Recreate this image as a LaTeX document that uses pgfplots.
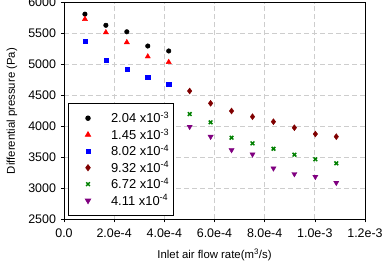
\documentclass[border=0pt]{standalone}
\usepackage{pgfplots}
\pgfplotsset{compat=1.18}
\usepackage{fontspec}
\setmainfont{Liberation Sans}

\definecolor{serA}{RGB}{0,0,0}
\definecolor{serB}{RGB}{255,0,0}
\definecolor{serC}{RGB}{0,0,255}
\definecolor{serD}{RGB}{128,0,0}
\definecolor{serE}{RGB}{0,128,0}
\definecolor{serF}{RGB}{128,0,128}
\definecolor{gridgray}{RGB}{205,205,205}

\begin{document}
\begin{tikzpicture}
\begin{axis}[
  scale only axis,
  width=301bp, height=216.6bp,
  xmin=0, xmax=0.0012,
  ymin=2500, ymax=6000,
  xtick={0,0.0002,0.0004,0.0006,0.0008,0.001,0.0012},
  xticklabels={0.0,2.0e-4,4.0e-4,6.0e-4,8.0e-4,1.0e-3,1.2e-3},
  ytick={2500,3000,3500,4000,4500,5000,5500,6000},
  /pgf/number format/assume math mode=true,
  /pgf/number format/set thousands separator={},
  scaled x ticks=false,
  tick pos=left,
  tick align=outside,
  major tick length=3bp,
  axis line style={line width=0.8bp},
  every tick/.style={black, line width=0.6bp},
  grid=major,
  major grid style={gridgray, line width=0.9bp, dash pattern=on 5bp off 3bp},
  tick label style={font=\fontsize{12.5}{14}\selectfont},
  xticklabel style={yshift=-2.5bp},
  yticklabel style={xshift=-1.5bp},
  xlabel={Inlet air flow rate(m\textsuperscript{3}/s)},
  ylabel={Differential pressure (Pa)},
  every axis x label/.style={at={([yshift=-36bp]rel axis cs:0.5,0)}, anchor=center,
    font=\fontsize{11.4}{13}\selectfont},
  every axis y label/.style={at={([xshift=-52bp]rel axis cs:0,0.5)}, rotate=90, anchor=center,
    font=\fontsize{11.4}{13}\selectfont},
  legend style={
    at={(0.012,0.015)}, anchor=south west,
    draw=black, line width=0.8bp,
    font=\fontsize{13}{15}\selectfont,
    row sep=0.4bp,
    inner xsep=2bp, inner ysep=7bp,
  },
  legend cell align=left,
  legend image code/.code={%
    % reserve a fixed-width slot for the marker
    \pgfpathrectangle{\pgfqpoint{0bp}{-1bp}}{\pgfqpoint{36bp}{2bp}}\pgfusepath{}%
    \draw[mark repeat=2,mark phase=2] plot coordinates {(0bp,0bp) (18bp,0bp) (36bp,0bp)};},
  /tikz/every odd column/.append style={column sep=3bp},
]
\addplot[only marks, mark=*, mark size=2.3bp, color=serA] coordinates {
  (0.0000835,5815) (0.000167,5635) (0.0002505,5530) (0.000334,5300) (0.0004175,5220)};
\addlegendentry{2.04 x10\textsuperscript{-3}}
\addplot[only marks, mark=triangle*, mark size=3bp, color=serB] coordinates {
  (0.0000835,5735) (0.000167,5520) (0.0002505,5360) (0.000334,5130) (0.0004175,5040)};
\addlegendentry{1.45 x10\textsuperscript{-3}}
\addplot[only marks, mark=square*, mark size=2.1bp, color=serC] coordinates {
  (0.0000835,5380) (0.000167,5075) (0.0002505,4925) (0.000334,4790) (0.0004175,4685)};
\addlegendentry{8.02 x10\textsuperscript{-4}}
\addplot[only marks, mark=diamond*, mark size=3bp, color=serD] coordinates {
  (0.000501,4573) (0.0005845,4374) (0.000668,4250) (0.0007515,4158)
  (0.000835,4077) (0.0009185,3980) (0.001002,3878) (0.0010855,3835)};
\addlegendentry{9.32 x10\textsuperscript{-4}}
\addplot[only marks, mark=x, mark size=2.6bp, mark options={line width=1.5bp}, color=serE] coordinates {
  (0.000501,4201) (0.0005845,4067) (0.000668,3818) (0.0007515,3727)
  (0.000835,3640) (0.0009185,3544) (0.001002,3470) (0.0010855,3405)};
\addlegendentry{6.72 x10\textsuperscript{-4}}
\addplot[only marks, mark=triangle*, mark options={rotate=180}, mark size=3bp, color=serF] coordinates {
  (0.000501,3996) (0.0005845,3835) (0.000668,3620) (0.0007515,3550)
  (0.000835,3324) (0.0009185,3232) (0.001002,3188) (0.0010855,3091)};
\addlegendentry{4.11 x10\textsuperscript{-4}}
\end{axis}
% page frame: the top tick label runs slightly past the upper edge
\pgfresetboundingbox
\path ([shift={(-64bp,-42.7bp)}]current axis.south west) rectangle ([shift={(22bp,2.7bp)}]current axis.north east);
\end{tikzpicture}
\end{document}
